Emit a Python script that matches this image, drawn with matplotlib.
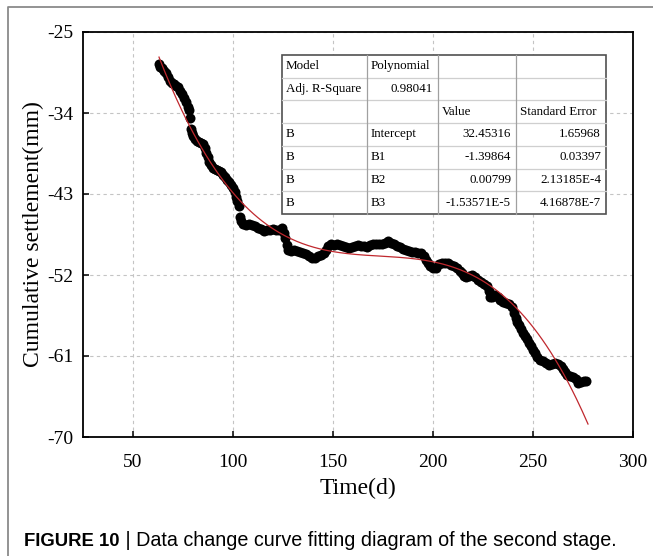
import numpy as np
import matplotlib
matplotlib.use("Agg")
import matplotlib.pyplot as plt
from matplotlib.lines import Line2D

plt.rcParams["axes.unicode_minus"] = False

time_d = [63, 63.5, 64.5, 65.5, 66.5, 67.5, 68.5, 69.5, 70.5, 71.5, 72.5, 73.5, 74.5, 75.5,
          76.5, 77.5, 78.0, 78.3, 78.8, 79.3, 80.0, 81.0, 82.0, 83.0, 84.0, 85.0, 86.0, 86.7,
          87.3, 88.0, 89.0, 90.0, 91.0, 92.0, 93.0, 94.0, 95.0, 96.0, 97.0, 98.0, 99.0, 100.0,
          101.0, 101.5, 102.2, 102.8, 103.5, 104.0, 105.0, 106.5, 108.0, 109.5, 111.0, 112.5,
          114.0, 115.5, 117.0, 118.5, 120.0, 121.5, 123.0, 124.5, 125.5, 126.0, 126.8, 127.5,
          129.0, 130.5, 132.0, 133.5, 135.0, 136.5, 138.0, 139.5, 141.0, 142.5, 144.0, 145.5,
          146.5, 147.5, 149.0, 150.5, 152.0, 153.5, 155.0, 156.5, 158.0, 159.5, 161.0, 162.5,
          164.0, 165.5, 167.0, 168.5, 170.0, 171.5, 173.0, 174.5, 176.0, 177.5, 179.0, 180.5,
          182.0, 183.5, 185.0, 186.5, 188.0, 189.5, 191.0, 192.5, 194.0, 195.5, 196.5, 197.5,
          198.5, 200.0, 201.5, 203.0, 204.5, 206.0, 207.5, 209.0, 210.5, 212.0, 213.5, 214.5,
          215.5, 216.5, 218.0, 219.5, 221.0, 222.5, 224.0, 225.5, 227.0, 227.8, 228.5, 229.5,
          231.0, 232.5, 233.5, 235.0, 236.5, 238.0, 239.5, 240.5, 241.3, 242.0, 243.0, 244.0,
          245.0, 246.0, 247.0, 248.0, 249.0, 250.0, 251.0, 252.0, 253.5, 255.0, 256.5, 258.0,
          259.5, 261.0, 262.5, 264.0, 265.0, 266.0, 267.0, 268.5, 270.0, 271.5, 272.5, 274.0,
          275.5, 276.5]
settlement = [-28.5, -28.9, -29.0, -29.3, -29.6, -30.0, -30.4, -30.7, -30.8, -31.0, -31.1, -31.5,
              -31.9, -32.3, -32.8, -33.3, -33.7, -34.6, -35.8, -36.2, -36.6, -36.9, -37.1, -37.2,
              -37.3, -37.4, -37.9, -38.4, -38.9, -39.4, -39.8, -40.1, -40.2, -40.3, -40.4, -40.6,
              -40.9, -41.1, -41.4, -41.7, -42.0, -42.3, -42.8, -43.3, -43.8, -44.3, -45.5, -46.0,
              -46.3, -46.4, -46.3, -46.4, -46.6, -46.8, -46.9, -47.1, -47.0, -47.0, -46.9, -47.0,
              -47.0, -46.8, -47.3, -47.9, -48.7, -49.2, -49.3, -49.2, -49.3, -49.4, -49.5, -49.7,
              -49.9, -50.1, -50.1, -49.9, -49.8, -49.6, -49.2, -48.8, -48.6, -48.7, -48.6, -48.7,
              -48.8, -48.9, -49.0, -48.9, -48.8, -48.7, -48.8, -48.8, -48.9, -48.7, -48.5, -48.5,
              -48.6, -48.5, -48.4, -48.2, -48.4, -48.6, -48.8, -48.9, -49.1, -49.2, -49.3, -49.4,
              -49.4, -49.5, -49.6, -49.9, -50.3, -50.7, -51.0, -51.2, -51.2, -50.8, -50.7, -50.7,
              -50.7, -50.9, -51.0, -51.2, -51.5, -51.8, -52.1, -52.2, -52.1, -52.0, -52.2, -52.5,
              -52.8, -53.0, -53.2, -53.8, -54.4, -54.4, -54.2, -54.4, -54.8, -55.0, -55.1, -55.2,
              -55.6, -56.2, -56.8, -57.2, -57.6, -58.0, -58.4, -58.8, -59.1, -59.5, -59.9, -60.3,
              -60.7, -61.1, -61.4, -61.6, -61.8, -62.0, -61.9, -61.8, -61.9, -62.1, -62.4, -62.8,
              -63.1, -63.2, -63.3, -63.6, -64.0, -63.9, -63.8, -63.8]

# polynomial fit from the table (Intercept, B1, B2, B3)
fit_coef = [32.45316, -1.39864, 0.00799, -1.53571e-5]
fit_range = (63, 277.5)

x_ticks = [50, 100, 150, 200, 250, 300]
y_ticks = [-25, -34, -43, -52, -61, -70]

table_rows = [
    ["Model", "Polynomial", "", ""],
    ["Adj. R-Square", "0.98041", "", ""],
    ["", "", "Value", "Standard Error"],
    ["B", "Intercept", "32.45316", "1.65968"],
    ["B", "B1", "-1.39864", "0.03397"],
    ["B", "B2", "0.00799", "2.13185E-4"],
    ["B", "B3", "-1.53571E-5", "4.16878E-7"],
]

W, H = 653, 556
fig = plt.figure(figsize=(W / 100, H / 100), dpi=100)
ax = fig.add_axes([83 / W, 1 - 437 / H, 550 / W, 405 / H])

serif = "Liberation Serif"

ax.scatter(time_d, settlement, s=52, color="black", zorder=3, linewidths=0)
tt = np.linspace(fit_range[0], fit_range[1], 300)
ax.plot(tt, np.polyval(fit_coef[::-1], tt), color="#c0282e", lw=0.9, zorder=4)

ax.set_xlim(25, 300)
ax.set_ylim(-70, -25)
ax.set_xticks(x_ticks)
ax.set_yticks(y_ticks)
ax.grid(True, color="#c4c4c4", ls=(0, (3, 3)), lw=0.8, zorder=0)
ax.tick_params(direction="in", length=4, width=1.1, top=False, right=False)
ax.tick_params(axis="x", pad=12)
ax.tick_params(axis="y", pad=7)
for lab in ax.get_xticklabels() + ax.get_yticklabels():
    lab.set_fontfamily(serif)
    lab.set_fontsize(14)
for sp in ax.spines.values():
    sp.set_linewidth(1.3)

ax.set_xlabel("Time(d)", fontfamily=serif, fontsize=17, labelpad=5)
ax.set_ylabel("Cumulative settlement(mm)", fontfamily=serif, fontsize=17, labelpad=2)

# the results table, drawn in figure pixels
col_edges = [282, 367, 438, 516, 606]
row_top, row_h = 55, 22.7
n_rows = len(table_rows)
fx = lambda px: px / W
fy = lambda py: 1 - py / H
bottom = row_top + n_rows * row_h
fig.patches.append(plt.Rectangle((fx(col_edges[0]), fy(bottom)),
                                 fx(col_edges[-1]) - fx(col_edges[0]), fy(row_top) - fy(bottom),
                                 transform=fig.transFigure, facecolor="white",
                                 edgecolor="#505050", lw=1.2, zorder=5))
for i in range(1, n_rows):
    y = fy(row_top + i * row_h)
    fig.add_artist(Line2D([fx(col_edges[0]), fx(col_edges[-1])], [y, y], color="#cfcfcf", lw=0.9, zorder=6))
for c in col_edges[1:-1]:
    fig.add_artist(Line2D([fx(c), fx(c)], [fy(row_top), fy(bottom)], color="#a0a0a0", lw=0.9, zorder=6))

right_cells = {(1, 1)}
for r, row in enumerate(table_rows):
    yc = fy(row_top + (r + 0.5) * row_h)
    for c, txt in enumerate(row):
        if not txt:
            continue
        numeric = (r >= 3 and c >= 2) or (r, c) in right_cells
        if numeric:
            fig.text(fx(col_edges[c + 1] - 5), yc, txt, ha="right", va="center",
                     fontfamily=serif, fontsize=9.4, zorder=7)
        else:
            fig.text(fx(col_edges[c] + 4), yc, txt, ha="left", va="center",
                     fontfamily=serif, fontsize=9.4, zorder=7)

# frame around the figure panel
fig.add_artist(Line2D([fx(8), fx(8), 1.0], [0.0, fy(7), fy(7)], color="#8a8a8a", lw=1.3))

cap1 = fig.text(fx(24), fy(550), "FIGURE 10", fontfamily="Liberation Sans", fontweight="bold",
                fontsize=13.3, va="bottom", ha="left")
plt.annotate(" | Data change curve fitting diagram of the second stage.", xy=(1, 0), xycoords=cap1,
             va="bottom", ha="left", fontfamily="Liberation Sans", fontsize=14.2)

fig.savefig("out.png", dpi=100)
